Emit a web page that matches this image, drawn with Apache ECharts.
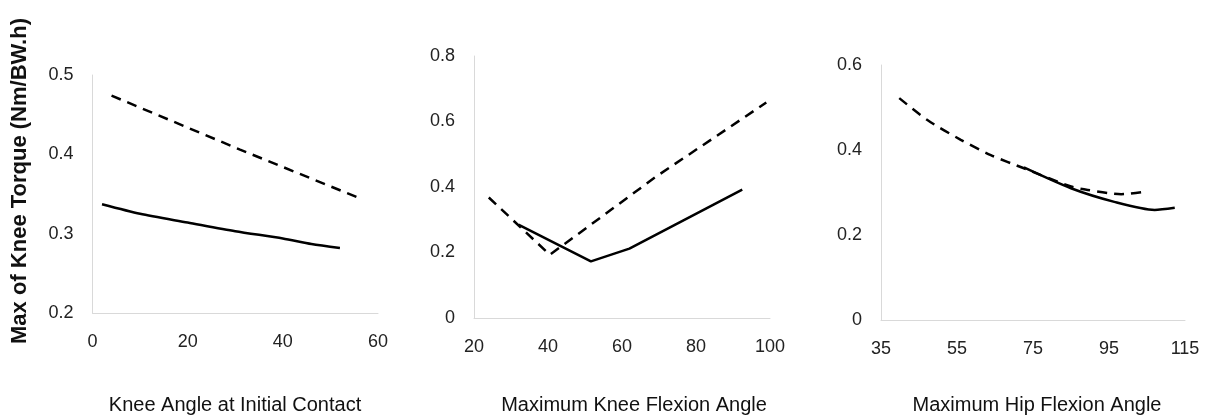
<!DOCTYPE html>
<html><head><meta charset="utf-8">
<script src="https://cdn.jsdelivr.net/npm/echarts@6/dist/echarts.min.js"></script>
<style>html,body{margin:0;padding:0;background:#fff}#c{width:1208px;height:420px}</style>
</head><body><div id="c"></div>
<script>
// Panel 1: Knee Angle at Initial Contact
const p1Dashed = [[4,0.474],[31,0.406],[56,0.345]];
const p1Solid = [[2,0.337],[10,0.325],[20,0.314],[30,0.303],[40,0.294],[46,0.287],[52,0.282]];
// Panel 2: Maximum Knee Flexion Angle
const p2Dashed = [[24,0.368],[40.5,0.193],[69,0.43],[99,0.658]];
const p2Solid = [[32,0.285],[51.6,0.173],[62,0.212],[92.5,0.392]];
// Panel 3: Maximum Hip Flexion Angle
const p3Dashed = [[39.8,0.522],[47.3,0.47],[56,0.424],[63.9,0.388],[72.6,0.357],[85,0.314],[89.4,0.306],[98.2,0.296],[104.4,0.302]];
const p3Solid = [[72.6,0.359],[85,0.31],[96.4,0.278],[107,0.259],[112.3,0.264]];
const p3XTicks = [35,55,75,95,115];
const yTitle = 'Max of Knee Torque (Nm/BW.h)';
const xTitles = ['Knee Angle at Initial Contact','Maximum Knee Flexion Angle','Maximum Hip Flexion Angle'];

const FONT = 'Liberation Sans';
const axisLine = {show:true, lineStyle:{color:'#d9d9d9', width:1}};
const lbl = {color:'#222', fontSize:18, fontFamily:FONT};
function xAx(i,min,max,interval,extra){
  return Object.assign({type:'value', gridIndex:i, min, max, interval,
    axisLine, axisTick:{show:false}, splitLine:{show:false},
    axisLabel:Object.assign({margin:20}, lbl)}, extra||{});
}
function yAx(i,min,max,interval){
  return {type:'value', gridIndex:i, min, max, interval,
    axisLine, axisTick:{show:false}, splitLine:{show:false},
    axisLabel:Object.assign({margin:19}, lbl)};
}
function ser(i,data,dashed,smooth){
  return {type:'line', xAxisIndex:i, yAxisIndex:i, data, smooth:smooth?0.25:false,
    showSymbol:false, symbol:'none',
    lineStyle:{color:'#000', width:2.5, type: dashed?[10,7]:'solid'}};
}
const chart = echarts.init(document.getElementById('c'), null, {renderer:'canvas'});
chart.setOption({
  animation:false,
  grid:[
    {left:92.5, top:75, width:285.5, height:238},
    {left:474, top:56, width:296, height:262},
    {left:881, top:65, width:304, height:255}
  ],
  xAxis:[
    xAx(0,0,60,20),
    xAx(1,20,100,20),
    xAx(2,35,115,20,{axisLabel:Object.assign({margin:20, customValues:p3XTicks}, lbl)})
  ],
  yAxis:[ yAx(0,0.2,0.5,0.1), yAx(1,0,0.8,0.2), yAx(2,0,0.6,0.2) ],
  series:[
    ser(0,p1Dashed,true,false), ser(0,p1Solid,false,true),
    ser(1,p2Dashed,true,false), ser(1,p2Solid,false,false),
    ser(2,p3Dashed,true,true), ser(2,p3Solid,false,true)
  ],
  graphic:[
    {type:'text', x:20, y:181, rotation:Math.PI/2, style:{text:yTitle, fill:'#111', font:'bold 22px "Liberation Sans"', align:'center', verticalAlign:'middle'}},
    {type:'text', x:235, y:405, style:{text:xTitles[0], fill:'#111', font:'20px "Liberation Sans"', align:'center', verticalAlign:'middle'}},
    {type:'text', x:634, y:405, style:{text:xTitles[1], fill:'#111', font:'20px "Liberation Sans"', align:'center', verticalAlign:'middle'}},
    {type:'text', x:1037, y:405, style:{text:xTitles[2], fill:'#111', font:'20px "Liberation Sans"', align:'center', verticalAlign:'middle'}}
  ]
});
</script></body></html>
